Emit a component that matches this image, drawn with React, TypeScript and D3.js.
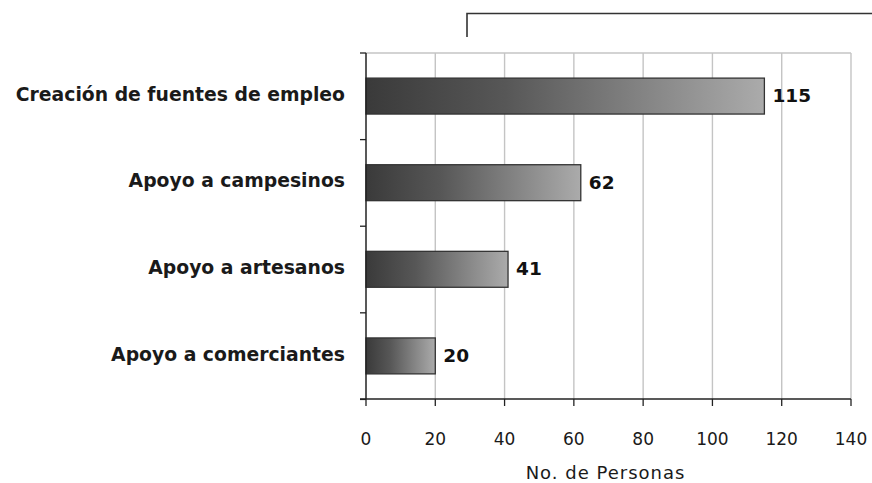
import React from "react";
import * as d3 from "d3";

const categories = [
  "Creación de fuentes de empleo",
  "Apoyo a campesinos",
  "Apoyo a artesanos",
  "Apoyo a comerciantes",
];
const values = [115, 62, 41, 20];
const xTicks = [0, 20, 40, 60, 80, 100, 120, 140];
const xTitle = "No. de Personas";

const W = 872;
const H = 483;
const M = { left: 366, right: 21, top: 53, bottom: 84 };

export default function App() {
  const x = d3.scaleLinear().domain([0, 140]).range([M.left, W - M.right]);
  const y = d3
    .scaleBand<string>()
    .domain(categories)
    .range([M.top, H - M.bottom])
    .paddingInner(0.585)
    .paddingOuter(0.29);
  const step = y.step();
  const x0 = x(0);
  const yBottom = H - M.bottom;
  const font = "'DejaVu Sans', Verdana, sans-serif";

  return (
    <svg
      width={W}
      height={H}
      style={{ position: "absolute", left: 0, top: 0, background: "#fff" }}
      fontFamily={font}
    >
      <defs>
        <linearGradient id="barGrad" x1="0" x2="1" y1="0" y2="0">
          <stop offset="0%" stopColor="#3a3a3a" />
          <stop offset="35%" stopColor="#575757" />
          <stop offset="100%" stopColor="#ababab" />
        </linearGradient>
      </defs>

      {/* top bracket */}
      <path d={`M467,37 V13.5 H${W}`} fill="none" stroke="#333" strokeWidth={1.6} />

      {/* gridlines */}
      {xTicks.slice(1).map((t) => (
        <line
          key={"g" + t}
          x1={x(t)}
          x2={x(t)}
          y1={M.top}
          y2={yBottom}
          stroke="#c4c4c4"
          strokeWidth={1.4}
        />
      ))}
      <line x1={x0} x2={x(140)} y1={M.top} y2={M.top} stroke="#c4c4c4" strokeWidth={1.4} />

      {/* bars */}
      {categories.map((c, i) => (
        <g key={c}>
          <rect
            x={x0}
            y={y(c)!}
            width={x(values[i]) - x0}
            height={y.bandwidth()}
            fill="url(#barGrad)"
            stroke="#333"
            strokeWidth={1.3}
          />
          <text
            x={x(values[i]) + 8}
            y={y(c)! + y.bandwidth() / 2}
            dy="0.32em"
            fontSize={18.5}
            fontWeight="bold"
            fill="#111"
          >
            {values[i]}
          </text>
          <text
            x={345}
            y={y(c)! + y.bandwidth() / 2}
            dy="0.25em"
            textAnchor="end"
            fontSize={18.8}
            fontWeight="bold"
            fill="#1a1a1a"
          >
            {c}
          </text>
        </g>
      ))}

      {/* y axis */}
      <line x1={x0} x2={x0} y1={M.top} y2={yBottom} stroke="#222" strokeWidth={1.5} />
      {d3.range(categories.length + 1).map((k) => (
        <line
          key={"yt" + k}
          x1={x0 - 6}
          x2={x0}
          y1={M.top + k * step}
          y2={M.top + k * step}
          stroke="#222"
          strokeWidth={1.3}
        />
      ))}

      {/* x axis */}
      <line x1={x0 - 6} x2={x(140)} y1={yBottom} y2={yBottom} stroke="#222" strokeWidth={1.5} />
      {xTicks.map((t) => (
        <g key={"xt" + t}>
          <line x1={x(t)} x2={x(t)} y1={yBottom} y2={yBottom + 7} stroke="#222" strokeWidth={1.3} />
          <text
            x={x(t)}
            y={yBottom + 46}
            textAnchor="middle"
            fontSize={17}
            fill="#1a1a1a"
          >
            {t}
          </text>
        </g>
      ))}
      <text
        x={(x0 + x(140)) / 2 - 3}
        y={yBottom + 80}
        textAnchor="middle"
        fontSize={18}
        letterSpacing={1}
        fill="#1a1a1a"
      >
        {xTitle}
      </text>
    </svg>
  );
}
